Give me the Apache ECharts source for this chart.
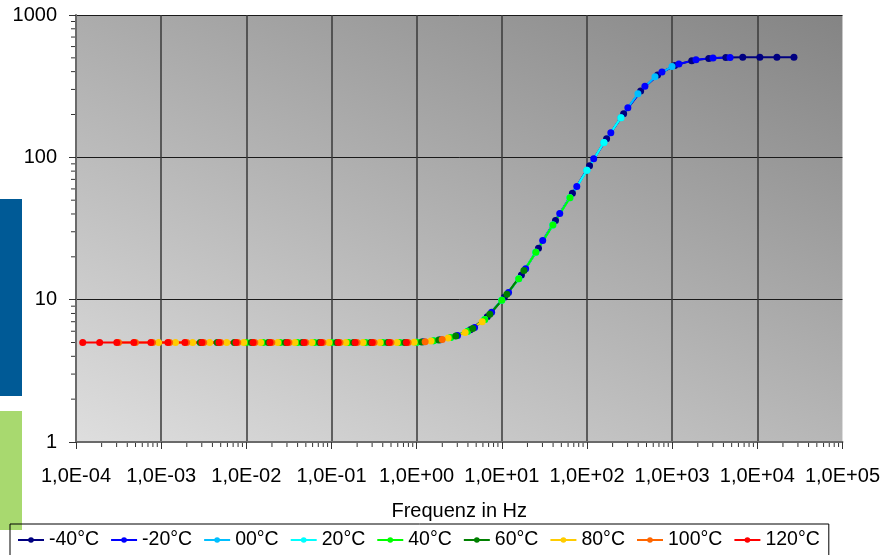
<!DOCTYPE html>
<html><head><meta charset="utf-8">
<script src="https://cdn.jsdelivr.net/npm/echarts@6/dist/echarts.min.js"></script>
<style>html,body{margin:0;padding:0;background:#fff}#c{width:883px;height:555px}</style>
</head><body><div id="c"></div>
<script>
// ---- data ----
const temperatures = ['-40°C', '-20°C', '00°C', '20°C', '40°C', '60°C', '80°C', '100°C', '120°C'];
const seriesColors = ['#000080', '#0000FF', '#00BFFF', '#00FFFF', '#00FF00', '#008000', '#FFCC00', '#FF6600', '#FF0000'];
// measured frequencies (Hz) before shifting
const rawFrequencyHz = [0.01, 0.0158, 0.0251, 0.0398, 0.0631, 0.1, 0.158, 0.251, 0.398, 0.631,
                        1, 1.58, 2.51, 3.98, 6.31, 10, 15.8, 25.1, 39.8, 63.1];
// horizontal shift factor per temperature
const shiftFactors = [427, 75.9, 15.8, 3.98, 1, 0.288, 0.0933, 0.0316, 0.012];
const valuesM40 = [6.15, 7.6, 10.4, 14.9, 23, 36, 55.9, 87.3, 135, 202, 293, 379, 442, 478, 495, 503, 504, 504, 504, 504];
const valuesM20 = [5.0, 5.06, 5.23, 5.6, 6.38, 8.15, 11.25, 16.5, 26, 40.3, 62.4, 97.8, 149, 223, 316, 398, 453, 484, 498, 503];
const values00  = [5, 5, 5, 5, 5.03, 5.15, 5.42, 6.0, 7.25, 9.9, 14.0, 21.5, 33.5, 52, 81, 127, 190, 280, 368, 435];
const values20  = [5, 5, 5, 5, 5, 5, 5, 5.03, 5.15, 5.42, 6.0, 7.25, 9.9, 14.0, 21.5, 33.5, 52, 81, 127, 190];
const values40  = [5, 5, 5, 5, 5, 5, 5, 5, 5, 5, 5.03, 5.15, 5.42, 6.0, 7.25, 9.9, 14.0, 21.5, 33.5, 52];
const values60  = [5, 5, 5, 5, 5, 5, 5, 5, 5, 5, 5, 5, 5, 5.05, 5.21, 5.55, 6.28, 7.9, 10.9, 16.0];
const values80  = [5, 5, 5, 5, 5, 5, 5, 5, 5, 5, 5, 5, 5, 5, 5, 5.02, 5.12, 5.37, 5.88, 7.0];
const values100 = [5, 5, 5, 5, 5, 5, 5, 5, 5, 5, 5, 5, 5, 5, 5, 5, 5, 5.0, 5.07, 5.25];
const values120 = [5, 5, 5, 5, 5, 5, 5, 5, 5, 5, 5, 5, 5, 5, 5, 5, 5, 5, 5, 5];
const xAxisTitle = 'Frequenz in Hz';
const xMin = 1e-4, xMax = 1e5, yMin = 1, yMax = 1000;
const xDecades = [1e-4, 1e-3, 1e-2, 1e-1, 1, 10, 100, 1000, 10000];
const yDecades = [1, 10, 100];
const minorMultipliers = [2, 3, 4, 5, 6, 7, 8, 9];

// ---- chart ----
const seriesValues = [valuesM40, valuesM20, values00, values20, values40, values60, values80, values100, values120];
const FONT = "'Liberation Sans', Arial, sans-serif";
const chart = echarts.init(document.getElementById('c'), null, {renderer: 'canvas'});

function sciLabel(v) {
  const e = Math.round(Math.log10(v));
  return '1,0E' + (e < 0 ? '-' : '+') + String(Math.abs(e)).padStart(2, '0');
}
const xMinorTicks = [];
xDecades.forEach(d => minorMultipliers.forEach(m => xMinorTicks.push([d * m, yMin])));
const yMinorTicks = [];
yDecades.forEach(d => minorMultipliers.forEach(m => yMinorTicks.push([xMin, d * m])));

const plotLeft = 76, plotTop = 15, plotW = 767, plotH = 427;

const series = temperatures.map((name, i) => ({
  name: name, type: 'line',
  data: rawFrequencyHz.map((f, k) => [f * shiftFactors[i], seriesValues[i][k]]),
  symbol: 'circle', symbolSize: 7, showSymbol: true, showAllSymbol: true,
  lineStyle: {width: 2, color: seriesColors[i]},
  itemStyle: {color: seriesColors[i]},
  emphasis: {disabled: true}, z: 3
}));
series.push({
  name: 'xMinor', type: 'custom', clip: false, silent: true, z: 2,
  data: xMinorTicks,
  renderItem: (params, api) => {
    const p = api.coord([api.value(0), api.value(1)]);
    return {type: 'line', shape: {x1: p[0], y1: p[1] + 1, x2: p[0], y2: p[1] + 5}, style: {stroke: '#333', lineWidth: 1}};
  }
});
series.push({
  name: 'yMinor', type: 'custom', clip: false, silent: true, z: 2,
  data: yMinorTicks,
  renderItem: (params, api) => {
    const p = api.coord([api.value(0), api.value(1)]);
    return {type: 'line', shape: {x1: p[0] - 5, y1: p[1], x2: p[0] - 1, y2: p[1]}, style: {stroke: '#333', lineWidth: 1}};
  }
});

const option = {
  animation: false,
  textStyle: {fontFamily: FONT},
  graphic: [
    {type: 'rect', left: 0, top: 199, z: -10, shape: {width: 22, height: 197}, style: {fill: '#005A96'}},
    {type: 'rect', left: 0, top: 411, z: -10, shape: {width: 22, height: 119}, style: {fill: '#A8D96F'}}
  ],
  grid: {
    left: plotLeft, top: plotTop, width: plotW, height: plotH, show: true, borderWidth: 0,
    backgroundColor: new echarts.graphic.LinearGradient(76, 442, 358, -199, [
      {offset: 0, color: '#dedede'}, {offset: 1, color: '#848484'}
    ], true)
  },
  legend: {
    data: temperatures, left: 10, top: 524, orient: 'horizontal',
    padding: [6, 9, 12, 7], itemGap: 11, itemWidth: 26, itemHeight: 7,
    borderColor: '#000', borderWidth: 1, backgroundColor: 'transparent',
    textStyle: {fontSize: 19.5, color: '#000', fontFamily: FONT}
  },
  xAxis: {
    type: 'log', logBase: 10, min: xMin, max: xMax,
    name: xAxisTitle, nameLocation: 'middle', nameGap: 59,
    nameTextStyle: {fontSize: 20, color: '#000', fontFamily: FONT},
    axisLine: {show: true, lineStyle: {color: '#6a6a6a', width: 2}},
    axisTick: {show: true, length: 7, lineStyle: {color: '#333'}},
    axisLabel: {fontSize: 20, color: '#000', margin: 24, formatter: sciLabel, fontFamily: FONT},
    splitLine: {show: true, showMaxLine: false, lineStyle: {color: '#3a3a3a', width: 1.5}}
  },
  yAxis: {
    type: 'log', logBase: 10, min: yMin, max: yMax,
    axisLine: {show: true, lineStyle: {color: '#6a6a6a', width: 2}},
    axisTick: {show: true, length: 7, lineStyle: {color: '#333'}},
    axisLabel: {fontSize: 20, color: '#000', margin: 19, fontFamily: FONT, formatter: v => String(Math.round(v))},
    splitLine: {show: true, lineStyle: {color: '#1a1a1a', width: 1}}
  },
  series: series
};
chart.setOption(option);
</script>
</body></html>
